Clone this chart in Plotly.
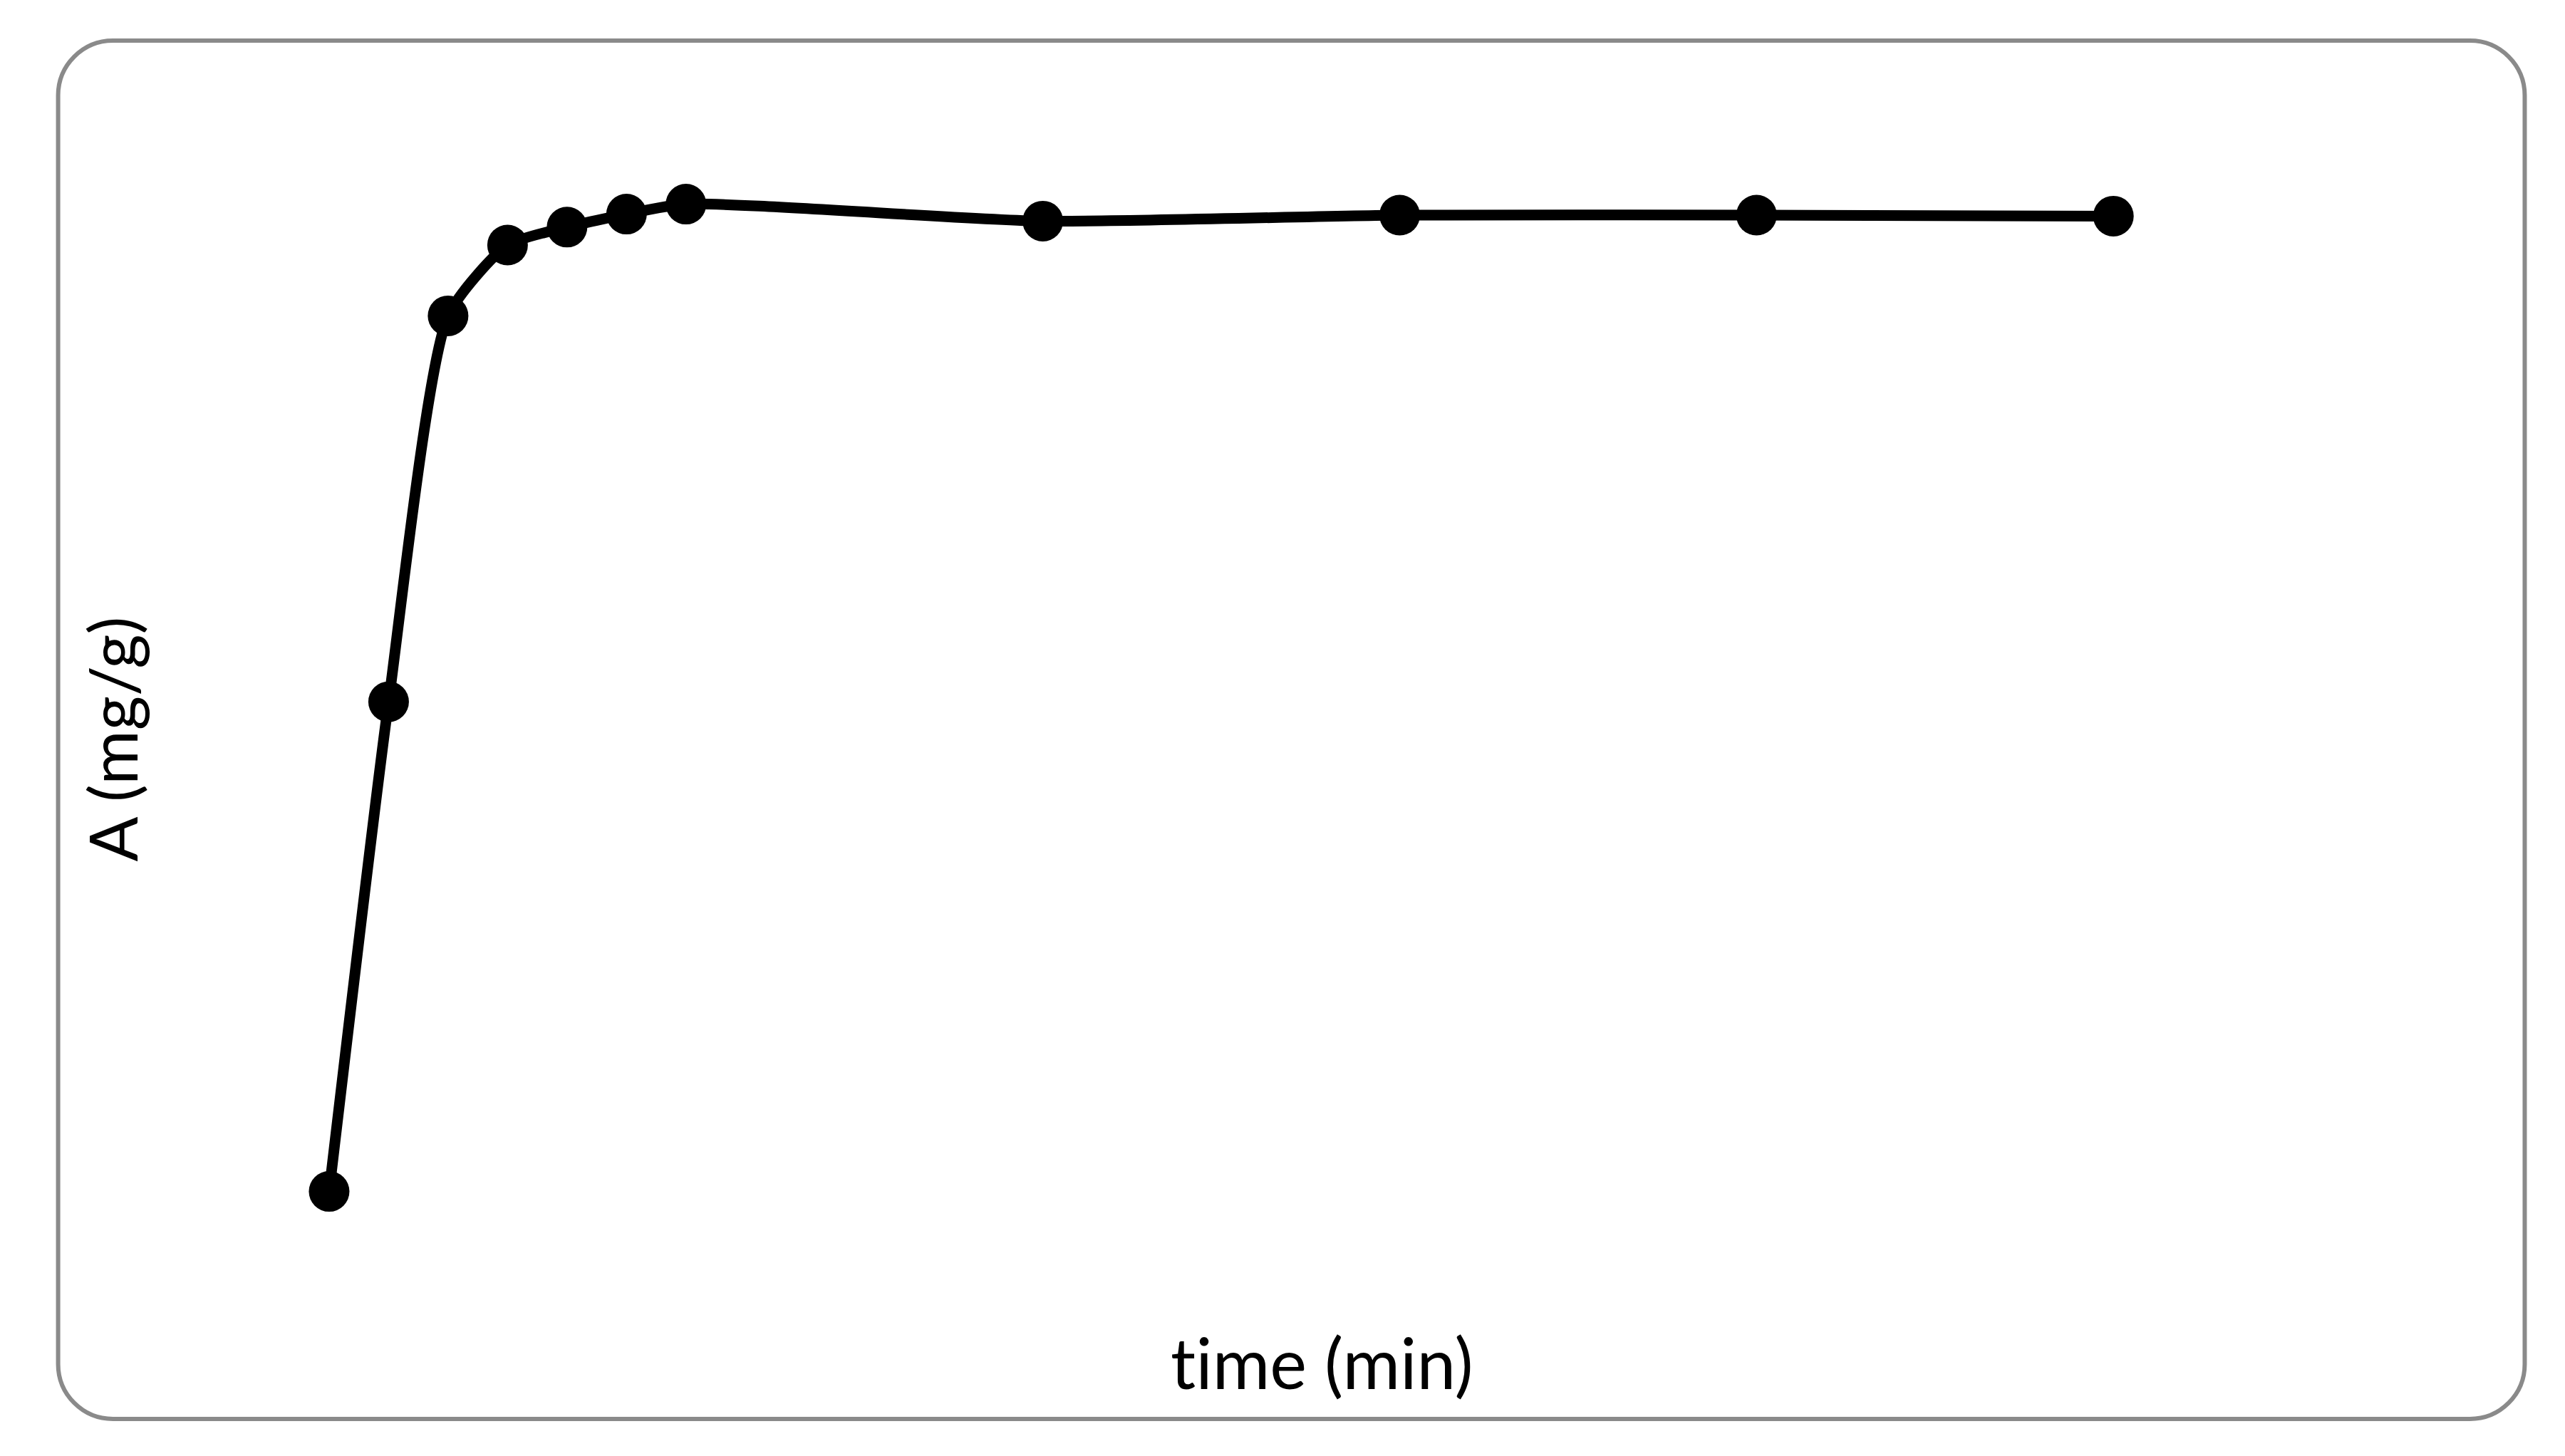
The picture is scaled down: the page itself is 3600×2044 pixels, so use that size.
import plotly.graph_objects as go

# Data (axes have no tick labels)
time_min = [0, 5, 10, 15, 20, 25, 30, 60, 90, 120, 150]
adsorption_mg_g = [9.1, 58.2, 96.9, 104.0, 105.8, 107.1, 108.1, 106.4, 107.0, 107.0, 106.9]

x_title = "t\u200cime (min)"
y_title = "A (mg/g)"

W, H = 3600, 2044
OFF = 8  # page body margin
ML, MR, MT, MB = 294.5 - OFF, 132.5 + OFF, 120 - OFF, 244 + OFF
XR = [-10, 180]
YR = [0, 120]

pw = W - ML - MR
ph = H - MT - MB


def px_to_paper(px, py):
    px -= OFF
    py -= OFF
    return (px - ML) / pw, (H - MB - py) / ph


fig = go.Figure()
fig.add_trace(go.Scatter(
    x=time_min, y=adsorption_mg_g,
    mode="lines+markers",
    line=dict(color="black", width=15, shape="spline", smoothing=0.6),
    marker=dict(color="black", size=57),
    showlegend=False,
    hoverinfo="x+y",
))

# rounded border of the chart frame (pixel geometry -> paper coords)
L, R, T, B, r = 81, 3544, 57, 1992, 77
k = 0.5523 * r


def P(px, py):
    a, b = px_to_paper(px, py)
    return f"{a:.6f},{b:.6f}"


path = (
    f"M {P(L + r, T)} L {P(R - r, T)} "
    f"C {P(R - r + k, T)} {P(R, T + r - k)} {P(R, T + r)} "
    f"L {P(R, B - r)} "
    f"C {P(R, B - r + k)} {P(R - r + k, B)} {P(R - r, B)} "
    f"L {P(L + r, B)} "
    f"C {P(L + r - k, B)} {P(L, B - r + k)} {P(L, B - r)} "
    f"L {P(L, T + r)} "
    f"C {P(L, T + r - k)} {P(L + r - k, T)} {P(L + r, T)} Z"
)
fig.add_shape(type="path", path=path, xref="paper", yref="paper",
              line=dict(color="#8a8a8a", width=6), fillcolor="rgba(0,0,0,0)",
              layer="below")

fam = "Lato, Carlito, Calibri, sans-serif"
xa, ya = px_to_paper(1855, 1912)
fig.add_annotation(text=x_title, xref="paper", yref="paper", x=xa, y=ya,
                   showarrow=False, font=dict(family=fam, size=98, color="black"),
                   xanchor="center", yanchor="middle")
xa, ya = px_to_paper(156, 1038)
fig.add_annotation(text=y_title, xref="paper", yref="paper", x=xa, y=ya,
                   showarrow=False, font=dict(family=fam, size=93, color="black"),
                   textangle=-90, xanchor="center", yanchor="middle")

fig.update_xaxes(range=XR, showticklabels=False, showgrid=False, zeroline=False,
                 showline=False, ticks="")
fig.update_yaxes(range=YR, showticklabels=False, showgrid=False, zeroline=False,
                 showline=False, ticks="")
fig.update_layout(
    width=W, height=H,
    margin=dict(l=ML, r=MR, t=MT, b=MB, pad=0),
    paper_bgcolor="white", plot_bgcolor="white",
    showlegend=False,
)
fig.write_html("out.html")
